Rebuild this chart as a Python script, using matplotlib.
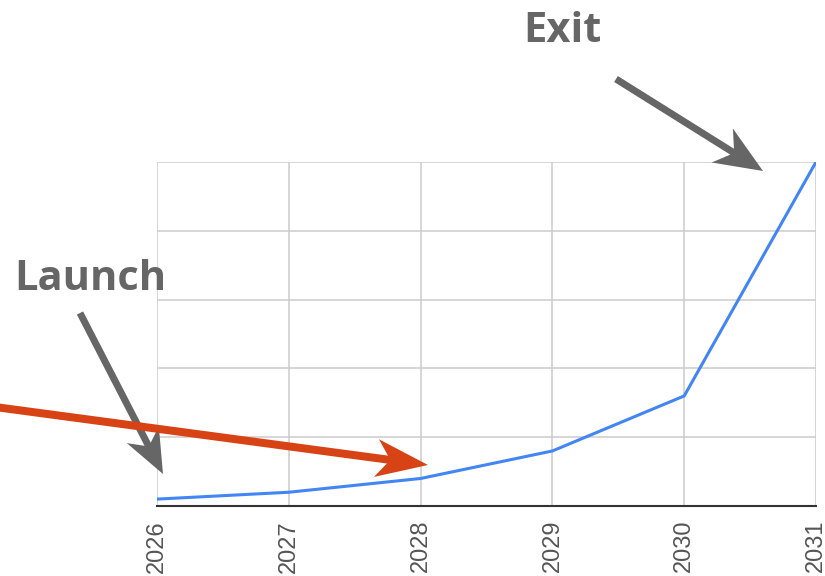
import matplotlib
matplotlib.use("Agg")
import matplotlib.pyplot as plt
from matplotlib.patches import Polygon
import numpy as np

years = [2026, 2027, 2028, 2029, 2030, 2031]
values = [2, 4, 8, 16, 32, 100]
labels = ["Launch", "Exit"]

W, H = 825, 576
fig = plt.figure(figsize=(W / 100, H / 100), dpi=100)
ax = fig.add_axes([157 / W, 1 - 506 / H, (816 - 157) / W, (506 - 162) / H])

ax.plot(years, values, color="#4285F4", lw=2.2, solid_joinstyle="miter", zorder=3)
ax.set_xlim(2026, 2031)
ax.set_ylim(0, 100)
ax.set_yticks(np.linspace(0, 100, 6))
ax.set_xticks(years)
ax.set_xticklabels([str(y) for y in years], rotation=90, fontsize=17,
                   color="#555555", family=["Liberation Sans", "DejaVu Sans"])
ax.tick_params(axis="y", length=0, labelleft=False)
ax.tick_params(axis="x", length=0, pad=10)
ax.grid(True, color="#cccccc", lw=1.1)
for s in ["top", "right", "left"]:
    ax.spines[s].set_visible(False)
ax.spines["bottom"].set_color("#333333")
ax.spines["bottom"].set_linewidth(1.5)


def fp(x, y):
    return (x / W, 1 - y / H)


def arrow(tail, tip, color, width, head_len, head_half, notch):
    t = np.array(tail, float)
    p = np.array(tip, float)
    d = p - t
    L = np.linalg.norm(d)
    u = d / L
    n = np.array([-u[1], u[0]])
    base = p - u * head_len
    notchp = base + u * notch
    s0 = t
    s1 = notchp + u * 2
    shaft = [s0 + n * width / 2, s1 + n * width / 2, s1 - n * width / 2, s0 - n * width / 2]
    fig.add_artist(Polygon([fp(*q) for q in shaft], closed=True, fc=color, ec="none",
                           transform=fig.transFigure, zorder=5))
    head = [p, base + n * head_half, notchp, base - n * head_half]
    fig.add_artist(Polygon([fp(*q) for q in head], closed=True, fc=color, ec="none",
                           transform=fig.transFigure, zorder=5))


gray = "#666666"
red = "#D84315"
arrow((616, 79), (763, 171), gray, 7, 48, 20, 14)
arrow((80, 313), (163, 474), gray, 7, 44, 18, 13)
arrow((-5, 407), (428, 465), red, 8, 52, 19, 14)

fig.text(90 / W, 1 - 280 / H, labels[0], fontsize=30, fontweight="bold", color=gray,
         ha="center", va="center", family=["Open Sans", "DejaVu Sans"])
fig.text(562 / W, 1 - 31 / H, labels[1], fontsize=30, fontweight="bold", color=gray,
         ha="center", va="center", family=["Open Sans", "DejaVu Sans"])

fig.savefig("out.png", dpi=100)
